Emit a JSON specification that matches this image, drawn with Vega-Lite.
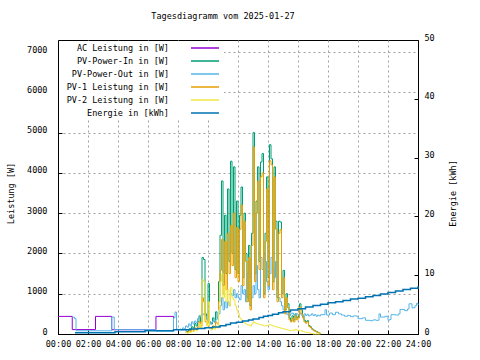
{
"$schema": "https://vega.github.io/schema/vega-lite/v6.json",
"width": 360, "height": 294,
"autosize": {"type": "none"},
"padding": {"left": 58, "top": 40, "right": 62, "bottom": 26},
"background": "white",
"title": {"text": "Tagesdiagramm vom 2025-01-27", "font": "DejaVu Sans Mono", "fontSize": 8.5, "fontWeight": "normal", "anchor": "middle", "dx": -15, "offset": 13, "color": "black"},
"config": {
  "view": {"stroke": "black", "strokeWidth": 1},
  "axis": {"labelFont": "DejaVu Sans Mono", "labelFontSize": 8.5, "labelColor": "black", "titleFont": "DejaVu Sans Mono", "titleFontSize": 8.5, "titleFontWeight": "normal", "titleColor": "black", "domainColor": "black", "tickColor": "black", "gridColor": "#a0a0a0", "gridDash": [2, 3], "gridOpacity": 1, "gridWidth": 1},
  "legend": {"labelFont": "DejaVu Sans Mono", "labelFontSize": 8.5, "labelColor": "black"}
},
"data": {"values": [
{"h":0,"ac":437},
{"h":0.95,"ac":110,"pout":420},
{"h":1.1,"pout":380},
{"h":1.13,"e":0.22},
{"h":1.2,"pout":80},
{"h":2.5,"ac":437},
{"h":3.58,"ac":107,"pout":420},
{"h":3.75,"pout":107},
{"h":3.8,"e":0.39},
{"h":5.8,"e":0.56},
{"h":6.53,"ac":437,"pout":72},
{"h":7.7,"ac":72,"pout":400,"e":0.73},
{"h":7.8,"pout":545},
{"h":7.9,"pout":120},
{"h":8.0,"pout":110},
{"h":8.1,"pout":120},
{"h":8.2,"pout":100},
{"h":8.3,"pout":150},
{"h":8.4,"pout":130},
{"h":8.5,"pin":80,"pv1":50,"pv2":30,"pout":200},
{"h":8.6,"pin":60,"pv1":40,"pv2":20,"pout":170},
{"h":8.7,"pin":120,"pv1":80,"pv2":40,"pout":250},
{"h":8.8,"pin":100,"pv1":60,"pv2":40,"pout":200,"e":0.85},
{"h":8.9,"pin":180,"pv1":110,"pv2":70,"pout":300},
{"h":9.0,"pin":150,"pv1":90,"pv2":60,"pout":250},
{"h":9.1,"pin":260,"pv1":150,"pv2":110,"pout":320},
{"h":9.2,"pin":200,"pv1":120,"pv2":80,"pout":280},
{"h":9.3,"pin":300,"pv1":180,"pv2":120,"pout":380,"e":0.95},
{"h":9.4,"pin":450,"pv1":300,"pv2":250,"pout":420},
{"h":9.5,"pin":300,"pv1":200,"pv2":150,"pout":450},
{"h":9.6,"pin":1900,"pv1":900,"pv2":1350,"pout":500},
{"h":9.7,"pin":1850,"pv1":800,"pv2":1300,"pout":480},
{"h":9.8,"pin":500,"pv1":300,"pv2":350,"pout":450,"e":1.05},
{"h":9.9,"pin":350,"pv1":250,"pv2":200,"pout":350},
{"h":10.0,"pin":1250,"pv1":500,"pv2":800,"pout":300},
{"h":10.1,"pin":300,"pv1":150,"pv2":150,"pout":250},
{"h":10.2,"pin":250,"pv1":130,"pv2":100,"pout":280},
{"h":10.3,"pin":400,"pv1":200,"pv2":150,"pout":320,"e":1.2},
{"h":10.4,"pin":300,"pv1":180,"pv2":120,"pout":300},
{"h":10.5,"pin":550,"pv1":300,"pv2":200,"pout":350},
{"h":10.6,"pin":400,"pv1":250,"pv2":150,"pout":400},
{"h":10.7,"pin":1300,"pv1":800,"pv2":600,"pout":500},
{"h":10.8,"pin":2450,"pv1":1580,"pv2":1300,"pout":700,"e":1.4},
{"h":10.9,"pin":3800,"pv1":2350,"pv2":1500,"pout":900},
{"h":11.0,"pin":1200,"pv1":1000,"pv2":900,"pout":600},
{"h":11.1,"pin":2950,"pv1":2300,"pv2":1200,"pout":800},
{"h":11.2,"pin":1500,"pv1":1100,"pv2":800,"pout":650,"e":1.6},
{"h":11.3,"pin":3600,"pv1":2500,"pv2":1100,"pout":800},
{"h":11.4,"pin":1800,"pv1":1500,"pv2":700,"pout":700},
{"h":11.5,"pin":4290,"pv1":2700,"pv2":1150,"pout":1000,"e":1.85},
{"h":11.6,"pin":2000,"pv1":1700,"pv2":900,"pout":950},
{"h":11.7,"pin":4150,"pv1":3000,"pv2":850,"pout":1100},
{"h":11.8,"pin":1600,"pv1":1400,"pv2":700,"pout":900},
{"h":11.9,"pin":3300,"pv1":2650,"pv2":600,"pout":1000,"e":2.0},
{"h":12.0,"pin":1500,"pv1":1300,"pv2":500,"pout":900},
{"h":12.1,"pin":2950,"pv1":2600,"pv2":400,"pout":850},
{"h":12.2,"pin":3650,"pv1":3200,"pv2":350,"pout":1200},
{"h":12.3,"pin":1400,"pv1":1200,"pv2":300,"pout":1000,"e":2.2},
{"h":12.4,"pin":3000,"pv1":2800,"pv2":280,"pout":1100},
{"h":12.5,"pin":2000,"pv1":1800,"pv2":250,"pout":800},
{"h":12.6,"pin":900,"pv1":800,"pv2":230,"pout":1500},
{"h":12.7,"pin":2200,"pv1":1900,"pv2":220,"pout":1800,"e":2.4},
{"h":12.8,"pin":700,"pv1":600,"pv2":200,"pout":1400},
{"h":12.9,"pin":2500,"pv1":2200,"pv2":250,"pout":900},
{"h":13.0,"pin":5000,"pv1":4640,"pv2":300,"pout":1200,"e":2.55},
{"h":13.1,"pin":1500,"pv1":1300,"pv2":280,"pout":1000},
{"h":13.2,"pin":3300,"pv1":3000,"pv2":260,"pout":1700},
{"h":13.3,"pin":4150,"pv1":3800,"pv2":250,"pout":1100},
{"h":13.4,"pin":1800,"pv1":1600,"pv2":240,"pout":900,"e":2.8},
{"h":13.5,"pin":4270,"pv1":3900,"pv2":230,"pout":1900},
{"h":13.6,"pin":4480,"pv1":4000,"pv2":220,"pout":1600},
{"h":13.7,"pin":1000,"pv1":900,"pv2":200,"pout":2030,"e":3.0},
{"h":13.8,"pin":2500,"pv1":2300,"pv2":200,"pout":1800},
{"h":13.9,"pin":3900,"pv1":3600,"pv2":210,"pout":1300},
{"h":14.0,"pin":1400,"pv1":1200,"pv2":220,"pout":1100,"e":3.15},
{"h":14.1,"pin":4700,"pv1":4300,"pv2":230,"pout":1500},
{"h":14.2,"pin":4350,"pv1":4200,"pv2":220,"pout":1900},
{"h":14.3,"pin":1300,"pv1":1100,"pv2":200,"pout":1600,"e":3.35},
{"h":14.4,"pin":4150,"pv1":3900,"pv2":190,"pout":1400},
{"h":14.5,"pin":2800,"pv1":2600,"pv2":180,"pout":1800},
{"h":14.6,"pin":900,"pv1":800,"pv2":170,"pout":1100},
{"h":14.7,"pin":2800,"pv1":2500,"pv2":160,"pout":900,"e":3.6},
{"h":14.8,"pin":2780,"pv1":2600,"pv2":150,"pout":800},
{"h":14.9,"pin":1000,"pv1":900,"pv2":140,"pout":700},
{"h":15.0,"pin":1580,"pv1":1400,"pv2":130,"pout":600,"e":3.8},
{"h":15.1,"pin":600,"pv1":500,"pv2":120,"pout":550},
{"h":15.2,"pin":1000,"pv1":900,"pv2":110,"pout":500},
{"h":15.3,"pin":750,"pv1":650,"pv2":100,"pout":480},
{"h":15.4,"pin":400,"pv1":350,"pv2":90,"pout":450},
{"h":15.5,"pin":330,"pv1":300,"pv2":80,"pout":500,"e":4.1},
{"h":15.6,"pin":450,"pv1":400,"pv2":100,"pout":520},
{"h":15.7,"pin":350,"pv1":300,"pv2":90,"pout":480},
{"h":15.8,"pin":500,"pv1":450,"pv2":120,"pout":460},
{"h":15.9,"pin":400,"pv1":350,"pv2":100,"pout":500},
{"h":16.0,"pin":450,"pv1":400,"pv2":80,"pout":480,"e":4.3},
{"h":16.1,"pin":750,"pv1":670,"pv2":90,"pout":520},
{"h":16.2,"pin":600,"pv1":500,"pv2":80,"pout":470},
{"h":16.3,"pin":450,"pv1":400,"pv2":60,"pout":430},
{"h":16.4,"pin":340,"pv1":300,"pv2":50,"pout":500},
{"h":16.5,"pin":300,"pv1":270,"pv2":40,"pout":460,"e":4.6},
{"h":16.6,"pin":330,"pv1":300,"pv2":40,"pout":490},
{"h":16.7,"pin":210,"pv1":190,"pv2":30,"pout":450},
{"h":16.8,"pin":180,"pv1":160,"pv2":20,"pout":470},
{"h":16.9,"pin":130,"pv1":120,"pv2":10,"pout":500},
{"h":17.0,"pin":100,"pv1":90,"pv2":0,"pout":460,"e":4.85},
{"h":17.1,"pin":80,"pv1":70,"pv2":0,"pout":480},
{"h":17.2,"pin":60,"pv1":50,"pv2":0,"pout":440},
{"h":17.3,"pin":40,"pv1":35,"pv2":0,"pout":470},
{"h":17.4,"pin":20,"pv1":20,"pv2":0,"pout":450},
{"h":17.5,"pin":0,"pv1":0,"pv2":0,"pout":480,"e":5.05},
{"h":17.6,"pout":480},
{"h":17.8,"pout":600},
{"h":17.9,"pout":470},
{"h":18.0,"e":5.3},
{"h":18.1,"pout":520},
{"h":18.3,"pout":480},
{"h":18.5,"pout":540,"e":5.5},
{"h":18.7,"pout":500},
{"h":18.9,"pout":470},
{"h":19.0,"e":5.7},
{"h":19.1,"pout":440},
{"h":19.3,"pout":460},
{"h":19.5,"pout":430,"e":5.95},
{"h":19.7,"pout":450},
{"h":19.9,"pout":440},
{"h":20.0,"pout":380,"e":6.1},
{"h":20.3,"pout":400},
{"h":20.5,"pout":340,"e":6.35},
{"h":20.8,"pout":330},
{"h":21.0,"pout":350,"e":6.55},
{"h":21.2,"pout":340},
{"h":21.4,"pout":500},
{"h":21.5,"pout":420,"e":6.8},
{"h":21.8,"pout":440},
{"h":22.0,"pout":340,"e":7.05},
{"h":22.1,"pout":360},
{"h":22.2,"pout":480},
{"h":22.5,"pout":470,"e":7.3},
{"h":22.7,"pout":500},
{"h":22.8,"pout":610},
{"h":23.0,"e":7.55},
{"h":23.1,"pout":580},
{"h":23.3,"pout":620},
{"h":23.4,"pout":750},
{"h":23.5,"e":7.8},
{"h":23.6,"pout":650},
{"h":23.8,"pout":700},
{"h":23.9,"pout":760},
{"h":24.0,"pout":720,"e":8.1}
]},
"transform": [
  {"fold": ["ac", "pin", "pout", "pv1", "pv2", "e"], "as": ["s", "v"]},
  {"filter": "datum.v != null"}
],
"encoding": {
  "x": {"field": "h", "type": "quantitative", "scale": {"domain": [0, 24], "nice": false, "zero": false},
        "axis": {"values": [0,2,4,6,8,10,12,14,16,18,20,22,24], "labelExpr": "(datum.value<10?'0':'')+datum.value+':00'", "title": null, "grid": true, "tickSize": -4, "labelPadding": 9, "labelFlush": false, "labelOverlap": false}},
  "color": {"field": "s", "type": "nominal",
            "scale": {"domain": ["ac", "pin", "pout", "pv1", "pv2", "e"], "range": ["#9400d3", "#009e73", "#56b4e9", "#e69f00", "#f0e442", "#0072b2"]},
            "legend": {"orient": "none", "legendX": 1, "legendY": 1, "title": null, "labelAlign": "right", "labelOffset": -41, "symbolOffset": 139, "symbolType": "M-3.5,0H3.5", "symbolSize": 64, "symbolStrokeWidth": 1.5, "rowPadding": 3, "padding": 2, "fillColor": "white",
                       "labelExpr": "datum.label=='ac'?'AC Leistung in [W]':datum.label=='pin'?'PV-Power-In in [W]':datum.label=='pout'?'PV-Power-Out in [W]':datum.label=='pv1'?'PV-1 Leistung in [W]':datum.label=='pv2'?'PV-2 Leistung in [W]':'Energie in [kWh]'"}}
},
"layer": [
  {
    "encoding": {"y": {"field": "v", "type": "quantitative", "scale": {"domain": [0, 7300], "nice": false},
                       "axis": {"values": [0,1000,2000,3000,4000,5000,6000,7000], "format": "d", "title": "Leistung [W]", "grid": true, "tickSize": -4, "labelPadding": 15, "labelOffset": -3, "titleX": -48, "titleY": 153, "titleAngle": 270, "titleBaseline": "middle"}}},
    "layer": [
      {"transform": [{"filter": "datum.s=='ac'"}], "mark": {"type": "line", "interpolate": "step-after", "strokeWidth": 1}},
      {"transform": [{"filter": "datum.s=='pin'"}], "mark": {"type": "line", "interpolate": "step-after", "strokeWidth": 1}},
      {"transform": [{"filter": "datum.s=='pout'"}], "mark": {"type": "line", "interpolate": "step-after", "strokeWidth": 1}},
      {"transform": [{"filter": "datum.s=='pv1'"}], "mark": {"type": "line", "interpolate": "step-after", "strokeWidth": 1}},
      {"transform": [{"filter": "datum.s=='pv2'"}], "mark": {"type": "line", "interpolate": "step-after", "strokeWidth": 1}}
    ]
  },
  {
    "transform": [{"filter": "datum.s=='e'"}],
    "mark": {"type": "line", "interpolate": "step-after", "strokeWidth": 1.5},
    "encoding": {"y": {"field": "v", "type": "quantitative", "scale": {"domain": [0, 50], "nice": false},
                       "axis": {"orient": "right", "values": [0,10,20,30,40,50], "title": "Energie [kWh]", "grid": false, "tickSize": -4, "labelPadding": 10, "labelOffset": -3, "titleX": 34, "titleY": 153, "titleAngle": 270, "titleBaseline": "middle"}}}
  }
],
"resolve": {"scale": {"y": "independent"}}
}
